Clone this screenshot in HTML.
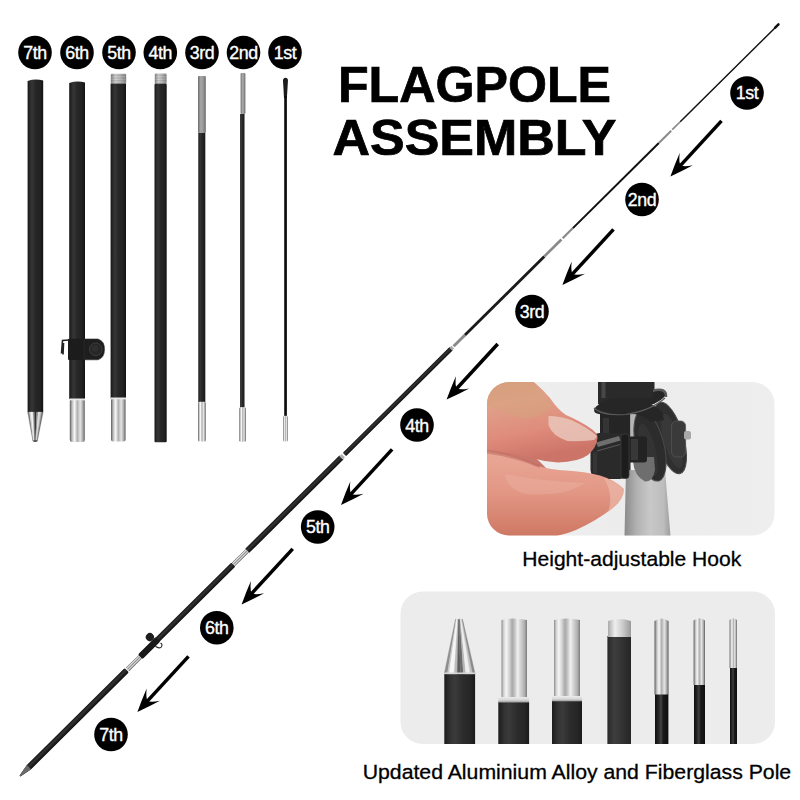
<!DOCTYPE html>
<html><head><meta charset="utf-8">
<style>
html,body{margin:0;padding:0;background:#fff;width:800px;height:800px;overflow:hidden}
svg{display:block}
text{font-family:"Liberation Sans",sans-serif}
</style></head><body>
<svg width="800" height="800" viewBox="0 0 800 800">
<defs>
<linearGradient id="blk" x1="0" x2="1" y1="0" y2="0">
<stop offset="0" stop-color="#151515"/><stop offset="0.1" stop-color="#242424"/><stop offset="0.28" stop-color="#363636"/><stop offset="0.5" stop-color="#272727"/><stop offset="0.8" stop-color="#222"/><stop offset="1" stop-color="#121212"/>
</linearGradient>
<linearGradient id="slv" x1="0" x2="1" y1="0" y2="0">
<stop offset="0" stop-color="#6a6a6a"/><stop offset="0.25" stop-color="#e8e8e8"/><stop offset="0.5" stop-color="#9a9a9a"/><stop offset="0.8" stop-color="#d0d0d0"/><stop offset="1" stop-color="#5a5a5a"/>
</linearGradient>
<linearGradient id="gry" x1="0" x2="1" y1="0" y2="0">
<stop offset="0" stop-color="#8a8a8a"/><stop offset="0.3" stop-color="#d4d4d4"/><stop offset="0.6" stop-color="#bdbdbd"/><stop offset="1" stop-color="#8e8e8e"/>
</linearGradient>
<linearGradient id="gry2" x1="0" x2="1" y1="0" y2="0">
<stop offset="0" stop-color="#6a6a6a"/><stop offset="0.35" stop-color="#a8a8a8"/><stop offset="0.65" stop-color="#9a9a9a"/><stop offset="1" stop-color="#6a6a6a"/>
</linearGradient>
<pattern id="thread" width="4" height="1.6" patternUnits="userSpaceOnUse"><rect width="4" height="0.6" fill="#000" opacity="0.18"/></pattern>
<clipPath id="clip2"><rect x="400.5" y="591.5" width="374.5" height="152.5" rx="22"/></clipPath>
<clipPath id="clip1"><rect x="487" y="382" width="287.5" height="153.5" rx="22"/></clipPath>
<linearGradient id="mblk" x1="0" x2="1" y1="0" y2="0">
<stop offset="0" stop-color="#1c1c1c"/><stop offset="0.2" stop-color="#333"/><stop offset="0.35" stop-color="#3a3a3a"/><stop offset="0.6" stop-color="#2c2c2c"/><stop offset="0.85" stop-color="#262626"/><stop offset="1" stop-color="#1a1a1a"/>
</linearGradient>
<linearGradient id="mblk2" x1="0" x2="1" y1="0" y2="0">
<stop offset="0" stop-color="#2a2a2a"/><stop offset="0.3" stop-color="#3e3e3e"/><stop offset="0.6" stop-color="#333"/><stop offset="1" stop-color="#262626"/>
</linearGradient>
<linearGradient id="fblk" x1="0" x2="1" y1="0" y2="0">
<stop offset="0" stop-color="#0e0e0e"/><stop offset="0.3" stop-color="#2a2a2a"/><stop offset="0.45" stop-color="#444"/><stop offset="0.6" stop-color="#1a1a1a"/><stop offset="1" stop-color="#0e0e0e"/>
</linearGradient>
<linearGradient id="alu2" x1="0" x2="1" y1="0" y2="0">
<stop offset="0" stop-color="#5a5a5a"/><stop offset="0.15" stop-color="#bdbdbd"/><stop offset="0.32" stop-color="#f8f8f8"/><stop offset="0.5" stop-color="#b0b0b0"/><stop offset="0.7" stop-color="#e4e4e4"/><stop offset="0.87" stop-color="#a8a8a8"/><stop offset="1" stop-color="#5e5e5e"/>
</linearGradient>
<linearGradient id="alu" x1="0" x2="1" y1="0" y2="0">
<stop offset="0" stop-color="#8c8c8c"/><stop offset="0.08" stop-color="#cfcfcf"/><stop offset="0.18" stop-color="#f5f5f5"/><stop offset="0.3" stop-color="#d6d6d6"/><stop offset="0.42" stop-color="#a9a9a9"/><stop offset="0.52" stop-color="#c4c4c4"/><stop offset="0.63" stop-color="#f0f0f0"/><stop offset="0.78" stop-color="#cbcbcb"/><stop offset="0.9" stop-color="#b0b0b0"/><stop offset="1" stop-color="#7c7c7c"/>
</linearGradient>
<linearGradient id="cone" x1="0" x2="1" y1="0" y2="0">
<stop offset="0" stop-color="#777"/><stop offset="0.15" stop-color="#ddd"/><stop offset="0.3" stop-color="#fafafa"/><stop offset="0.5" stop-color="#5a5a5a"/><stop offset="0.7" stop-color="#c8c8c8"/><stop offset="0.85" stop-color="#f2f2f2"/><stop offset="1" stop-color="#888"/>
</linearGradient>
<linearGradient id="ring" x1="0" x2="0" y1="0" y2="1">
<stop offset="0" stop-color="#eee"/><stop offset="0.6" stop-color="#d6d6d6"/><stop offset="1" stop-color="#999"/>
</linearGradient>
<linearGradient id="cap" x1="0" x2="1" y1="0" y2="0">
<stop offset="0" stop-color="#aaa"/><stop offset="0.3" stop-color="#eee"/><stop offset="0.6" stop-color="#d0d0d0"/><stop offset="1" stop-color="#9a9a9a"/>
</linearGradient>
<linearGradient id="bg1" x1="0" x2="1" y1="0" y2="0">
<stop offset="0" stop-color="#efefef"/><stop offset="0.5" stop-color="#ececec"/><stop offset="1" stop-color="#eeeeee"/>
</linearGradient>
<linearGradient id="pole1" x1="0" x2="1" y1="0" y2="0">
<stop offset="0" stop-color="#8a8a8a"/><stop offset="0.25" stop-color="#b0b0b0"/><stop offset="0.55" stop-color="#c8c8c8"/><stop offset="0.85" stop-color="#bdbdbd"/><stop offset="1" stop-color="#9d9d9d"/>
</linearGradient>
<linearGradient id="skin1" x1="0" x2="0.3" y1="0" y2="1">
<stop offset="0" stop-color="#d29a76"/><stop offset="0.35" stop-color="#e0a08a"/><stop offset="0.7" stop-color="#df8c7c"/><stop offset="1" stop-color="#cc7468"/>
</linearGradient>
<linearGradient id="skin2" x1="0" x2="0" y1="0" y2="1">
<stop offset="0" stop-color="#eaa896"/><stop offset="0.45" stop-color="#e39886"/><stop offset="1" stop-color="#cc7560"/>
</linearGradient>
<g id="arrow">
<line x1="-75.5" y1="0" x2="-13" y2="0" stroke="#000" stroke-width="3.5"/>
<path d="M0,0 Q-12,-5 -23.5,-9 Q-16,-3.5 -15,0 Q-16,3.5 -23.5,9 Q-12,5 0,0 Z" fill="#000"/>
</g>
</defs>

<!-- ===== top-left vertical poles ===== -->
<g id="poles">
<!-- 7th -->
<path d="M27.6,81 Q35.4,78.5 43.2,80.5 L43.2,412 L27.6,412 Z" fill="url(#blk)"/>
<path d="M27.60,412 L29.47,412 L33.35,441 L32.80,441 Z" fill="#7a7a7a" stroke="#7a7a7a" stroke-width="0.3"/>
<path d="M29.47,412 L31.03,412 L33.81,441 L33.35,441 Z" fill="#d0d0d0" stroke="#d0d0d0" stroke-width="0.3"/>
<path d="M31.03,412 L32.90,412 L34.36,441 L33.81,441 Z" fill="#f4f4f4" stroke="#f4f4f4" stroke-width="0.3"/>
<path d="M32.90,412 L34.62,412 L34.87,441 L34.36,441 Z" fill="#9a9a9a" stroke="#9a9a9a" stroke-width="0.3"/>
<path d="M34.62,412 L36.65,412 L35.47,441 L34.87,441 Z" fill="#2e2e2e" stroke="#2e2e2e" stroke-width="0.3"/>
<path d="M36.65,412 L38.21,412 L35.93,441 L35.47,441 Z" fill="#8a8a8a" stroke="#8a8a8a" stroke-width="0.3"/>
<path d="M38.21,412 L40.08,412 L36.48,441 L35.93,441 Z" fill="#dcdcdc" stroke="#dcdcdc" stroke-width="0.3"/>
<path d="M40.08,412 L41.64,412 L36.94,441 L36.48,441 Z" fill="#bdbdbd" stroke="#bdbdbd" stroke-width="0.3"/>
<path d="M41.64,412 L43.20,412 L37.40,441 L36.94,441 Z" fill="#6e6e6e" stroke="#6e6e6e" stroke-width="0.3"/>
<ellipse cx="35.2" cy="441" rx="2.3" ry="1" fill="#555"/>
<!-- 6th -->
<path d="M69.2,83 Q77,80.5 85,82.5 L85,399 L69.2,399 Z" fill="url(#blk)"/>
<rect x="69.8" y="399" width="15" height="43" rx="2" fill="url(#alu2)"/><rect x="69.5" y="398.5" width="15.6" height="1.8" fill="#e8e8e8"/>
<!-- 5th -->
<rect x="110.8" y="73.8" width="15.4" height="10" rx="1.2" fill="url(#gry)"/><rect x="110.8" y="73.8" width="15.4" height="10" fill="url(#thread)"/>
<rect x="110.6" y="83.6" width="15.4" height="315" fill="url(#blk)"/>
<rect x="111" y="398" width="14.6" height="43.5" rx="2" fill="url(#alu2)"/><rect x="110.7" y="397.5" width="15.3" height="1.8" fill="#e8e8e8"/>
<!-- 4th -->
<rect x="154.8" y="73.5" width="11.8" height="10.5" rx="1.2" fill="url(#gry)"/><rect x="154.8" y="73.5" width="11.8" height="10.5" fill="url(#thread)"/>
<rect x="154.5" y="83.7" width="12.2" height="358.5" rx="1" fill="url(#blk)"/>
<!-- 3rd -->
<rect x="198" y="76" width="7.8" height="57" rx="1" fill="url(#gry2)"/>
<rect x="198.3" y="133" width="7" height="269" fill="url(#blk)"/>
<rect x="198" y="401.8" width="7.8" height="39.8" rx="1.5" fill="url(#alu2)"/>
<!-- 2nd -->
<rect x="240.6" y="73" width="4.8" height="41" rx="1" fill="url(#gry2)"/>
<rect x="240.1" y="114" width="4.4" height="293.5" fill="url(#blk)"/>
<rect x="239.3" y="407.3" width="6.7" height="34.5" rx="1.5" fill="url(#alu2)"/>
<!-- 1st -->
<path d="M284,98 L283,80.5 Q283.2,77.8 285.5,77.8 Q287.8,77.8 288,80.5 L286.9,98 Z" fill="#1c1c1c"/>
<rect x="284.2" y="96" width="2.7" height="320" fill="#0e0e0e"/>
<rect x="283.2" y="415.7" width="4.8" height="25.8" rx="1.5" fill="url(#alu2)"/>
<!-- clamp on 6th -->
<rect x="68" y="338.7" width="17.5" height="21.2" rx="1" fill="#1c1c1c"/>
<path d="M84,339 L98,339 Q104.5,341 104.5,349.3 Q104.5,358 98,359.8 L84,359.8 Z" fill="#1e1e1e" stroke="#2e2e2e" stroke-width="0.6"/>
<circle cx="95.8" cy="349.3" r="6.3" fill="#262626" stroke="#3e3e3e" stroke-width="1"/>
<circle cx="95" cy="348.5" r="3.5" fill="#2e2e2e"/>
<path d="M69,340 L62.5,340.5 L61.5,353.5 M63.5,343 L63,354.5" fill="none" stroke="#222" stroke-width="1.6"/>
</g>

<!-- top labels -->
<g id="toplabels" font-size="17.8" fill="#fff" stroke="#fff" stroke-width="0.35" letter-spacing="-0.4" text-anchor="middle">
<circle cx="35" cy="52.5" r="16.8" fill="#000" stroke="none"/><text x="35" y="58.8">7th</text>
<circle cx="77" cy="52.5" r="16.8" fill="#000" stroke="none"/><text x="77" y="58.8">6th</text>
<circle cx="119" cy="52.5" r="16.8" fill="#000" stroke="none"/><text x="119" y="58.8">5th</text>
<circle cx="160.3" cy="52.5" r="16.8" fill="#000" stroke="none"/><text x="160.3" y="58.8">4th</text>
<circle cx="202" cy="52.5" r="16.8" fill="#000" stroke="none"/><text x="202" y="58.8">3rd</text>
<circle cx="243.5" cy="52.5" r="16.8" fill="#000" stroke="none"/><text x="243.5" y="58.8">2nd</text>
<circle cx="285" cy="52.5" r="16.8" fill="#000" stroke="none"/><text x="285" y="58.8">1st</text>
</g>

<!-- title -->
<g transform="translate(0,102) scale(1,1.06) translate(0,-102)"><text x="338" y="102" font-size="48" font-weight="bold" fill="#000" stroke="#000" stroke-width="0.7" textLength="273" lengthAdjust="spacingAndGlyphs">FLAGPOLE</text></g>
<g transform="translate(0,155) scale(1,1.06) translate(0,-155)"><text x="332.5" y="155" font-size="48" font-weight="bold" fill="#000" stroke="#000" stroke-width="0.7" textLength="284" lengthAdjust="spacingAndGlyphs">ASSEMBLY</text></g>

<!-- ===== diagonal pole ===== -->
<g transform="translate(20,776) rotate(-44.74)">
<!-- 7th -->
<path d="M0,-0.6 L12.7,-3 L149,-3 Q150.3,-3 150.3,-1.6 L150.3,1.6 Q150.3,3 149,3 L12.7,3 L0,0.6 Z" fill="url(#pblk)"/>
<path d="M0,-0.6 L12.7,-3 L12.7,3 L0,0.6 Z" fill="#6a6a6a"/>
<rect x="151.3" y="-2.3" width="18.3" height="4.6" fill="url(#slvd)"/>
<!-- 6th -->
<rect x="169.4" y="-2.8" width="131" height="5.6" rx="1" fill="url(#pblk)"/>
<rect x="169.6" y="-3.3" width="24.5" height="6.6" rx="1.2" fill="#181818"/>
<circle cx="190" cy="-7.2" r="4.1" fill="#1e1e1e"/>
<path d="M187.5,3.2 Q188,7.5 191,7.8 Q194,7.5 193.5,4.5" fill="none" stroke="#2a2a2a" stroke-width="1.1"/>
<rect x="300.5" y="-2.3" width="19.4" height="4.6" fill="url(#slvd)"/>
<!-- 5th -->
<rect x="319.9" y="-2.85" width="132.6" height="5.7" fill="url(#pblk)"/>
<rect x="452" y="-2.4" width="3.2" height="4.8" fill="#b0b0b0"/>
<!-- 4th -->
<rect x="456.8" y="-2.3" width="150.3" height="4.6" rx="0.8" fill="url(#pblk)"/>
<rect x="606.5" y="-1.9" width="2.8" height="3.8" fill="#aaa"/>
<rect x="610.5" y="-1.5" width="16" height="3" fill="#8a8a8a"/>
<!-- 3rd -->
<rect x="626.5" y="-1.4" width="111.6" height="2.8" fill="#1a1a1a"/>
<rect x="738.1" y="-1.3" width="24.1" height="2.6" fill="#8a8a8a"/>
<rect x="764" y="-1.1" width="14.4" height="2.2" fill="#8a8a8a"/>
<!-- 2nd -->
<rect x="778.4" y="-1" width="121" height="2" fill="#111"/>
<rect x="899.4" y="-1" width="17.4" height="2" fill="#8a8a8a"/>
<rect x="918.2" y="-0.85" width="11.3" height="1.7" fill="#8a8a8a"/>
<!-- 1st -->
<rect x="929.5" y="-0.75" width="134" height="1.5" fill="#111"/>
<rect x="1062" y="-1.3" width="7" height="2.6" rx="1.2" fill="#111"/>
</g>
<defs>
<linearGradient id="slvd" x1="0" x2="0" y1="0" y2="1">
<stop offset="0" stop-color="#5a5a5a"/><stop offset="0.22" stop-color="#f0f0f0"/><stop offset="0.45" stop-color="#8a8a8a"/><stop offset="0.7" stop-color="#e0e0e0"/><stop offset="1" stop-color="#505050"/>
</linearGradient>
<linearGradient id="pblk" x1="0" x2="0" y1="0" y2="1">
<stop offset="0" stop-color="#111"/><stop offset="0.35" stop-color="#333"/><stop offset="0.65" stop-color="#222"/><stop offset="1" stop-color="#0d0d0d"/>
</linearGradient>
</defs>

<!-- arrows -->
<use href="#arrow" transform="translate(670.4,176.4) rotate(132.6)"/>
<use href="#arrow" transform="translate(562.4,285) rotate(132.6)"/>
<use href="#arrow" transform="translate(446.6,399.6) rotate(132.6)"/>
<use href="#arrow" transform="translate(341,505) rotate(132.6)"/>
<use href="#arrow" transform="translate(241.6,604.4) rotate(132.6)"/>
<use href="#arrow" transform="translate(137.4,712) rotate(132.6)"/>

<!-- diagonal labels -->
<g font-size="17.8" fill="#fff" stroke="#fff" stroke-width="0.35" letter-spacing="-0.4" text-anchor="middle">
<circle cx="747" cy="93" r="16.8" fill="#000" stroke="none"/><text x="747" y="99.3">1st</text>
<circle cx="642" cy="199.5" r="16.8" fill="#000" stroke="none"/><text x="642" y="205.8">2nd</text>
<circle cx="532" cy="311.5" r="16.8" fill="#000" stroke="none"/><text x="532" y="317.8">3rd</text>
<circle cx="417" cy="425" r="16.8" fill="#000" stroke="none"/><text x="417" y="431.5">4th</text>
<circle cx="317.7" cy="527" r="16.8" fill="#000" stroke="none"/><text x="317.7" y="533.3">5th</text>
<circle cx="216.8" cy="627.7" r="16.8" fill="#000" stroke="none"/><text x="216.8" y="634.0">6th</text>
<circle cx="111" cy="734.5" r="16.8" fill="#000" stroke="none"/><text x="111" y="740.8">7th</text>
</g>

<!-- ===== photo 1 : hook ===== -->
<g id="photo1">
<rect x="487" y="382" width="287.5" height="153.5" rx="22" fill="url(#bg1)"/>
<g clip-path="url(#clip1)">
<!-- silver pole -->
<path d="M626,470 L665,470 L670.5,536 L624.5,536 Z" fill="url(#pole1)"/>
<!-- top tube -->
<rect x="598" y="378" width="56.5" height="26" fill="#2a2a2a"/>
<rect x="601.5" y="378" width="4" height="20" fill="#474747"/>
<!-- body -->
<rect x="600" y="404" width="30.5" height="66" fill="#252525"/>
<rect x="603" y="418" width="6" height="46" fill="#353535"/>
<!-- silver visible between body and plate -->
<path d="M630.5,414 L640,416 L646,440 L646,458 L630.5,458 Z" fill="#b5b5b5"/>
<!-- back plate -->
<ellipse cx="670" cy="438" rx="13.5" ry="37" transform="rotate(-16 670 438)" fill="#2f2f2f" stroke="#4a4a4a" stroke-width="1"/>
<ellipse cx="672" cy="441" rx="8" ry="28" transform="rotate(-16 672 441)" fill="#383838"/>
<!-- nut + bolt -->
<rect x="671.6" y="421" width="14" height="36" rx="5" fill="#3a3a3a" stroke="#555" stroke-width="0.8"/>
<rect x="684" y="431" width="7" height="8.5" rx="2" fill="#a8a8a8"/>
<!-- front plate -->
<ellipse cx="650" cy="446" rx="14" ry="36" transform="rotate(-14 650 446)" fill="#2c2c2c" stroke="#4c4c4c" stroke-width="1"/>
<ellipse cx="648" cy="450" rx="7.5" ry="27" transform="rotate(-14 648 450)" fill="#333"/>
<path d="M633,461 Q634,476 645,481.5 Q653,482 655,470 L654,457 L637,457 Z" fill="#6e6e6e"/>
<!-- arm (ring to plates) -->
<path d="M630,404 Q652,400 662,412 L664,420 L650,422 Q644,414 630,414 Z" fill="#262626"/>
<!-- collar ring -->
<ellipse cx="630" cy="402" rx="37" ry="9.5" transform="rotate(-14 630 402)" fill="#262626"/>
<path d="M652,391 Q667,387 666,397" fill="none" stroke="#5a5a5a" stroke-width="2.5"/>
<rect x="598" y="378" width="55" height="20" fill="#2a2a2a"/>
<rect x="601.5" y="378" width="4" height="20" fill="#474747"/>
<path d="M594,408 Q602,416 626,414.5 Q652,410 665,398" fill="none" stroke="#5a5a5a" stroke-width="1.2"/>
<!-- knob shaft -->
<rect x="627.5" y="436.5" width="19.5" height="26" rx="3" fill="#232323"/>
<rect x="631" y="439" width="7" height="21" fill="#383838"/>
<!-- knob -->
<rect x="590.5" y="433" width="38.5" height="46" rx="9" fill="#2a2a2a"/>
<rect x="621" y="434" width="8" height="44.5" rx="3" fill="#1c1c1c" stroke="#3c3c3c" stroke-width="0.8"/>
<path d="M596,442.5 L619,436 L620.5,440.5 L598,447 Z" fill="#7a7a7a" opacity="0.85"/>
<path d="M597,451 L620,444.5" stroke="#5a5a5a" stroke-width="1"/>
<rect x="593" y="452" width="4" height="22" rx="2" fill="#353535"/>
<!-- lower thumb -->
<path d="M478,440 L530,452 Q540,462 548,470 L478,470 Z" fill="#c9776b"/>
<path d="M478,450 Q512,454 536,465.5 Q552,470 566,470.5 Q585,471.5 600,475.5 Q615,480 623.9,489 Q624,498 614,507 Q598,520 576,530 Q560,537 540,538 L478,540 Z" fill="url(#skin2)"/>
<path d="M505,474 Q545,482 585,483 Q565,497 525,494 Q505,487 505,474 Z" fill="#eab4a4" opacity="0.4"/>
<path d="M604,478 Q619,483 624,490 Q623,502 608,512 Q614,495 604,478 Z" fill="#ebb8aa" opacity="0.7"/>
<!-- upper finger -->
<path d="M478,376 L526,376 Q540,386 550,398 Q558,410 566,415 Q580,421 590,428 Q598,433 597.5,438 Q597,447 588,455 Q578,462 558,462.5 Q545,462 532,458 Q505,451 478,449 Z" fill="url(#skin1)"/>
<path d="M487,382 L526,382 Q545,392 553,406 Q540,420 520,418 Q500,412 487,405 Z" fill="#d6a27c" opacity="0.55"/>
<path d="M548.5,416 Q560,416 571,420 Q587,427 597,436 Q596,440 590,440.5 Q578,441.5 567.5,441 Q552,436 548.5,425 Z" fill="#eac7bb" opacity="0.85"/>
<path d="M478,451 Q505,454 528,462 Q534,465 540,466.5" fill="none" stroke="#b8635a" stroke-width="2.5" opacity="0.5"/>
</g>
</g>
<text x="522.3" y="565.7" font-size="20.5" fill="#000" stroke="#000" stroke-width="0.3" textLength="219" lengthAdjust="spacingAndGlyphs">Height-adjustable Hook</text>

<!-- ===== photo 2 : pole ends ===== -->
<g id="photo2">
<rect x="400.5" y="591.5" width="374.5" height="152.5" rx="22" fill="#ececec"/>
<g clip-path="url(#clip2)">
<!-- A cone -->
<rect x="444.3" y="674" width="30.8" height="72" fill="url(#mblk)"/>
<path d="M455.40,619.3 L456.12,619.3 L447.30,674 L444.20,674 Z" fill="#8e8e8e" stroke="#8e8e8e" stroke-width="0.3"/>
<path d="M456.12,619.3 L456.55,619.3 L449.16,674 L447.30,674 Z" fill="#c8c8c8" stroke="#c8c8c8" stroke-width="0.3"/>
<path d="M456.55,619.3 L457.70,619.3 L454.12,674 L449.16,674 Z" fill="#f6f6f6" stroke="#f6f6f6" stroke-width="0.3"/>
<path d="M457.70,619.3 L458.42,619.3 L457.22,674 L454.12,674 Z" fill="#bdbdbd" stroke="#bdbdbd" stroke-width="0.3"/>
<path d="M458.42,619.3 L459.14,619.3 L460.32,674 L457.22,674 Z" fill="#5e5e5e" stroke="#5e5e5e" stroke-width="0.3"/>
<path d="M459.14,619.3 L459.86,619.3 L463.42,674 L460.32,674 Z" fill="#6a6a6a" stroke="#6a6a6a" stroke-width="0.3"/>
<path d="M459.86,619.3 L460.44,619.3 L465.90,674 L463.42,674 Z" fill="#b5b5b5" stroke="#b5b5b5" stroke-width="0.3"/>
<path d="M460.44,619.3 L461.45,619.3 L470.24,674 L465.90,674 Z" fill="#efefef" stroke="#efefef" stroke-width="0.3"/>
<path d="M461.45,619.3 L462.02,619.3 L472.72,674 L470.24,674 Z" fill="#c4c4c4" stroke="#c4c4c4" stroke-width="0.3"/>
<path d="M462.02,619.3 L462.60,619.3 L475.20,674 L472.72,674 Z" fill="#8a8a8a" stroke="#8a8a8a" stroke-width="0.3"/>
<rect x="444.2" y="672.5" width="31" height="1.6" fill="#d8d8d8"/>
<!-- B -->
<rect x="498.3" y="702" width="30.8" height="44" fill="url(#mblk)"/>
<rect x="498.3" y="696.5" width="30.8" height="6" fill="url(#ring)"/>
<path d="M501.5,697 L501.5,620 Q514,617 527,620 L527,697 Z" fill="url(#alu)"/>
<!-- C -->
<rect x="552" y="701" width="30" height="45" fill="url(#mblk)"/>
<rect x="552" y="695.8" width="30" height="5.5" fill="url(#ring)"/>
<path d="M554,696 L554,620 Q567,617 580,620 L580,696 Z" fill="url(#alu)"/>
<!-- D -->
<rect x="607.4" y="636" width="23.6" height="110" fill="url(#mblk2)"/>
<path d="M608,637 L608,621 Q619.5,617 631,621 L631,637 Z" fill="url(#cap)"/>
<!-- E -->
<rect x="655" y="694" width="13.4" height="52" fill="url(#fblk)"/>
<path d="M654.5,694.4 L654.5,621 Q661.5,616 668.6,621 L668.6,694.4 Z" fill="url(#alu2)"/>
<!-- F -->
<rect x="694" y="684.5" width="11" height="62" fill="url(#fblk)"/>
<path d="M693.6,685 L693.6,620.5 Q699.3,616 705,620.5 L705,685 Z" fill="url(#alu2)"/>
<!-- G -->
<rect x="730" y="667.5" width="7" height="79" fill="url(#fblk)"/>
<path d="M729.6,668 L729.6,620 Q733.3,616.5 737,620 L737,668 Z" fill="url(#alu2)"/>
</g>
</g>
<text x="362.7" y="778.6" font-size="20.5" fill="#000" stroke="#000" stroke-width="0.3" textLength="428.5" lengthAdjust="spacingAndGlyphs">Updated Aluminium Alloy and Fiberglass Pole</text>
</svg>
</body></html>
